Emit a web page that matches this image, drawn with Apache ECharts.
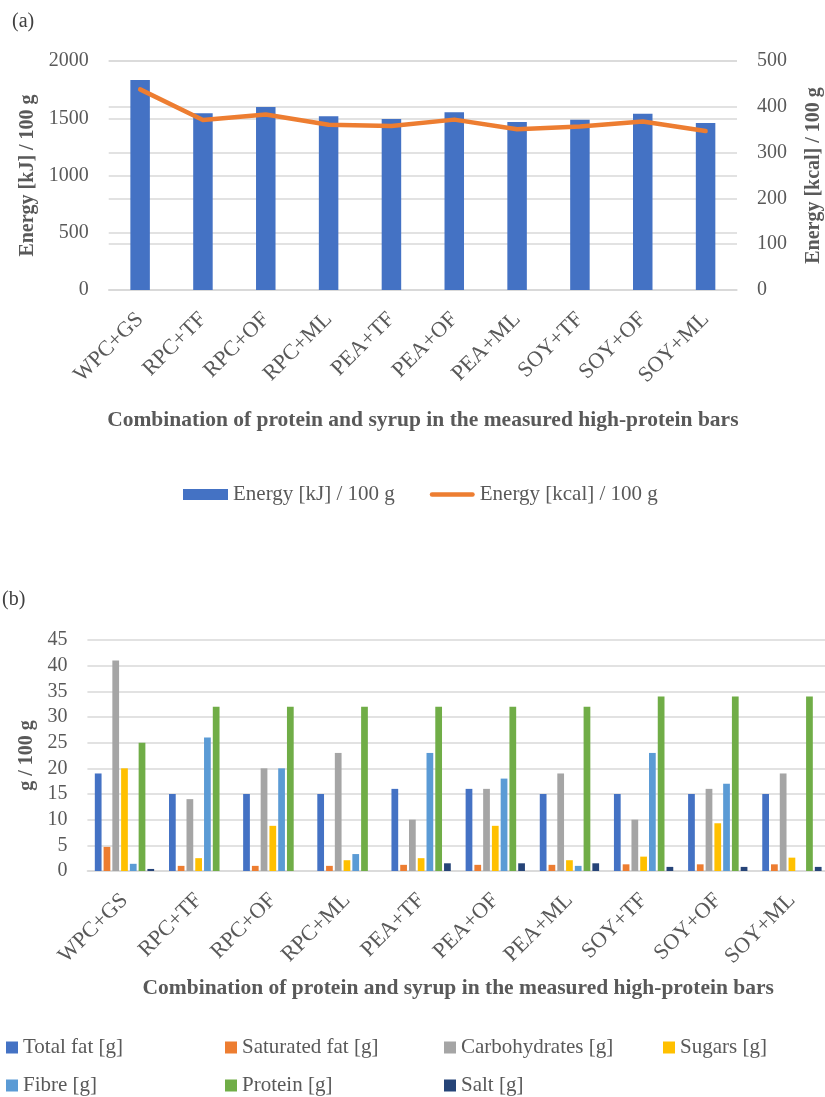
<!DOCTYPE html>
<html>
<head>
<meta charset="utf-8">
<script src="https://cdn.jsdelivr.net/npm/echarts@6/dist/echarts.min.js"></script>
<style>
html,body{margin:0;padding:0;background:#fff;}
#chart{width:825px;height:1097px;}
</style>
</head>
<body>
<div id="chart"></div>
<script>
var categories = ['WPC+GS','RPC+TF','RPC+OF','RPC+ML','PEA+TF','PEA+OF','PEA+ML','SOY+TF','SOY+OF','SOY+ML'];
var energyKJ = [1834, 1543, 1598, 1517, 1493, 1552, 1467, 1487, 1540, 1459];
var energyKcal = [438, 371, 383, 361, 358, 372, 351, 357, 368, 347];
var totalFat = [19, 15, 15, 15, 16, 16, 15, 15, 15, 15];
var saturatedFat = [4.7, 1.0, 1.0, 1.0, 1.2, 1.2, 1.2, 1.3, 1.3, 1.3];
var carbohydrates = [41, 14, 20, 23, 10, 16, 19, 10, 16, 19];
var sugars = [20, 2.5, 8.8, 2.1, 2.5, 8.8, 2.1, 2.8, 9.3, 2.6];
var fibre = [1.4, 26, 20, 3.3, 23, 18, 1.0, 23, 17, 0];
var protein = [25, 32, 32, 32, 32, 32, 32, 34, 34, 34];
var salt = [0.4, 0, 0, 0, 1.5, 1.5, 1.5, 0.8, 0.8, 0.8];
var nutrientNames = ['Total fat [g]','Saturated fat [g]','Carbohydrates [g]','Sugars [g]','Fibre [g]','Protein [g]','Salt [g]'];
var nutrientData = [totalFat, saturatedFat, carbohydrates, sugars, fibre, protein, salt];
var nutrientColors = ['#4472C4','#ED7D31','#A5A5A5','#FFC000','#5B9BD5','#70AD47','#264478'];
var xAxisTitle = 'Combination of protein and syrup in the measured high-protein bars';

var FONT = '"Liberation Serif", "Times New Roman", serif';
var TXT = '#595959';
var GRID = '#D9D9D9';

var chart = echarts.init(document.getElementById('chart'), null, {renderer:'canvas'});

function catAxis(gridIndex, nameGap) {
  return {
    type: 'category', gridIndex: gridIndex, data: categories,
    axisTick: {show: false},
    axisLine: {lineStyle: {color: GRID, width: 1.5}},
    axisLabel: {rotate: 45, fontFamily: FONT, fontSize: 22, color: TXT, margin: 26, interval: 0},
    name: xAxisTitle, nameLocation: 'middle', nameGap: nameGap,
    nameTextStyle: {fontFamily: FONT, fontSize: 21.5, fontWeight: 'bold', color: TXT}
  };
}
function valAxis(gridIndex, max, interval, name, nameGap, position) {
  return {
    type: 'value', gridIndex: gridIndex, min: 0, max: max, interval: interval,
    position: position,
    axisLine: {show: false}, axisTick: {show: false},
    splitLine: {show: true, lineStyle: {color: GRID, width: 1.5}},
    axisLabel: {fontFamily: FONT, fontSize: 20, color: TXT, margin: 20,
      formatter: function (v) { return String(v); }},
    name: name, nameLocation: 'middle', nameGap: nameGap, nameRotate: 90,
    nameTextStyle: {fontFamily: FONT, fontSize: 20, fontWeight: 'bold', color: TXT}
  };
}

var series = [
  {name: 'Energy [kJ] / 100 g', type: 'bar', xAxisIndex: 0, yAxisIndex: 0, data: energyKJ,
   barWidth: 19.5, itemStyle: {color: '#4472C4'}},
  {name: 'Energy [kcal] / 100 g', type: 'line', xAxisIndex: 0, yAxisIndex: 1, data: energyKcal,
   symbol: 'none', lineStyle: {color: '#ED7D31', width: 4.5, cap: 'round', join: 'round'},
   itemStyle: {color: '#ED7D31'}}
];
nutrientNames.forEach(function (n, i) {
  series.push({name: n, type: 'bar', xAxisIndex: 1, yAxisIndex: 2, data: nutrientData[i],
    barGap: '30%', barCategoryGap: '20%', itemStyle: {color: nutrientColors[i]}});
});

var legendCols = [6, 225, 444, 663];
var legends = [{
  left: 183, top: 484, padding: 0, itemWidth: 45, itemHeight: 11, itemGap: 35,
  data: [
    {name: 'Energy [kJ] / 100 g', icon: 'rect'},
    {name: 'Energy [kcal] / 100 g', icon: 'path://M2.25,0 L42.75,0 A2.25,2.25 0 0 1 42.75,4.5 L2.25,4.5 A2.25,2.25 0 0 1 2.25,0 Z'}
  ],
  textStyle: {fontFamily: FONT, fontSize: 21, color: TXT}
}];
nutrientNames.forEach(function (n, i) {
  legends.push({
    left: legendCols[i % 4], top: i < 4 ? 1037 : 1075, padding: 0,
    itemWidth: 12, itemHeight: 12, icon: 'rect', data: [n],
    textStyle: {fontFamily: FONT, fontSize: 21, color: TXT}
  });
});

chart.setOption({
  animation: false,
  backgroundColor: '#fff',
  title: [
    {text: '(a)', left: 12, top: 12, padding: 0, textStyle: {fontFamily: FONT, fontSize: 20, fontWeight: 'normal', color: '#404040'}},
    {text: '(b)', left: 2, top: 590, padding: 0, textStyle: {fontFamily: FONT, fontSize: 20, fontWeight: 'normal', color: '#404040'}}
  ],
  grid: [
    {left: 108.7, right: 88, top: 61, height: 229, outerBoundsMode: 'none'},
    {left: 87.4, right: -4, top: 640, height: 231, outerBoundsMode: 'none'}
  ],
  xAxis: [catAxis(0, 119), catAxis(1, 106)],
  yAxis: [
    valAxis(0, 2000, 500, 'Energy [kJ] / 100 g', 54.5, 'left'),
    valAxis(0, 500, 100, 'Energy [kcal] / 100 g', 67, 'right'),
    valAxis(1, 45, 5, 'g / 100 g', 43, 'left')
  ],
  legend: legends,
  series: series
});
</script>
</body>
</html>
